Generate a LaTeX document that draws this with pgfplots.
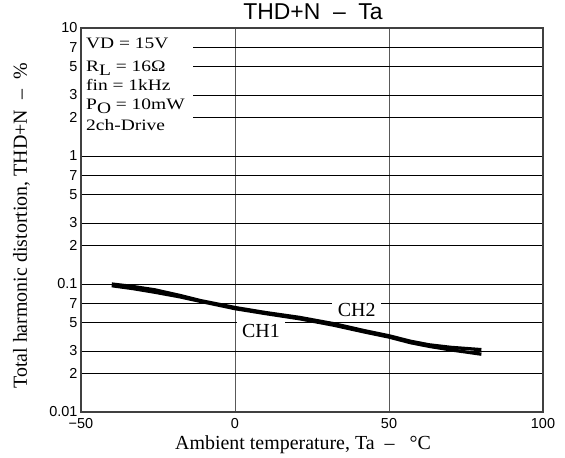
\documentclass[border=0pt]{standalone}
\usepackage{fontspec}
\setmainfont{Liberation Serif}
\newfontfamily\arial{Liberation Sans}
\newfontfamily\annfont[FakeStretch=1.22]{Liberation Serif}
\usepackage{pgfplots}
\pgfplotsset{compat=1.18}
\pgfplotstableread{
x y
-40 0.1000
-33 0.0955
-26 0.0900
-18 0.0815
-11 0.0740
0 0.0655
10 0.0598
21 0.0548
32 0.0490
42 0.0432
50 0.0394
57 0.0357
63 0.0335
70 0.0320
80 0.0307
}\chtwo
\pgfplotstableread{
x y
-40 0.0970
-33 0.0920
-26 0.0862
-18 0.0795
-11 0.0730
0 0.0642
10 0.0587
21 0.0535
32 0.0477
42 0.0422
50 0.0385
57 0.0348
63 0.0326
70 0.0306
80 0.0283
}\chone
\begin{document}
\begin{tikzpicture}
\begin{axis}[
  at={(0,0)}, anchor=south west,
  scale only axis, width=462bp, height=384bp,
  xmin=-50, xmax=100, ymode=log, ymin=0.01, ymax=10,
  xtick={-50,0,50,100}, xticklabels={−50,0,50,100},
  ytick={0.01,0.02,0.03,0.05,0.07,0.1,0.2,0.3,0.5,0.7,1,2,3,5,7,10},
  yticklabels={0.01,2,3,5,7,0.1,2,3,5,7,1,2,3,5,7,10},
  minor ytick={}, minor xtick={},
  major tick length=0, minor tick length=0,
  xmajorgrids, ymajorgrids,
  x grid style={line width=0.8bp, black!65},
  y grid style={line width=0.8bp, black},
  axis line style={line width=1.2bp, black!75},
  tick label style={font=\arial\fontsize{14.5}{14.5}\selectfont},
  xticklabel style={yshift=-3bp},
  /pgf/number format/assume math mode=true,
]
\addplot[black, line width=3.3bp, line join=round] table[x=x,y=y] {\chtwo};
\addplot[black, line width=3.3bp, line join=round] table[x=x,y=y] {\chone};
\end{axis}
% annotation box
\fill[white] (0.7bp,272bp) rectangle (112bp,383.3bp);
\begin{scope}[every node/.style={anchor=base west, inner sep=0, font=\annfont\fontsize{16}{16}\selectfont}]
\node at (5bp,363.7bp) {VD = 15V};
\node at (5bp,340.3bp) {R\raisebox{-4bp}{L} = 16Ω};
\node at (5bp,321.3bp) {fin = 1kHz};
\node at (5bp,302bp) {P\raisebox{-4bp}{O} = 10mW};
\node at (5bp,281bp) {2ch-Drive};
\end{scope}
% curve labels
\node[fill=white, inner xsep=5.5bp, inner ysep=3bp, anchor=base, font=\fontsize{20}{20}\selectfont] at (180bp,74bp) {CH1};
\node[fill=white, inner xsep=5.5bp, inner ysep=3bp, anchor=base, font=\fontsize{20}{20}\selectfont] at (275.7bp,95.3bp) {CH2};
% title and axis labels
\node[anchor=base, font=\arial\fontsize{23}{23}\selectfont] at (232bp,392bp) {THD+N\ \ –\ \ Ta};
\node[anchor=base, font=\fontsize{20}{20}\selectfont] at (222bp,-37bp) {Ambient temperature, Ta\ \ –\ \ \ °C};
\node[rotate=90, anchor=base, font=\fontsize{20}{20}\selectfont] at (-54bp,186bp) {Total harmonic distortion, THD+N\ \ –\ \ \%};
\pgfresetboundingbox
\useasboundingbox (-81bp,-46bp) rectangle (484bp,412bp);
\end{tikzpicture}
\end{document}
